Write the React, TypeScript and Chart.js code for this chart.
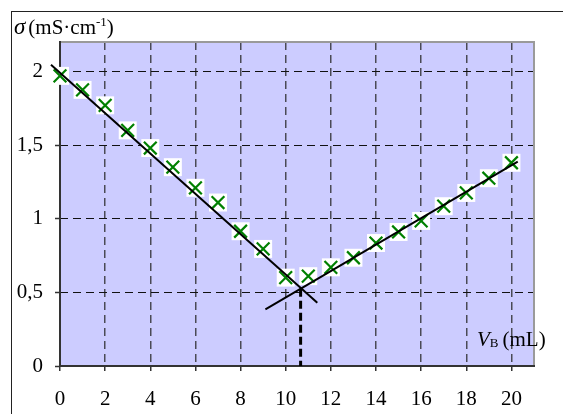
import React, { useEffect, useRef } from "react";
import { Chart, registerables } from "chart.js";

Chart.register(...registerables);

const volumes = [0, 1, 2, 3, 4, 5, 6, 7, 8, 9, 10, 11, 12, 13, 14, 15, 16, 17, 18, 19, 20];
const conductivity = [
  1.97, 1.875, 1.77, 1.6, 1.48, 1.35, 1.21, 1.11, 0.915, 0.795, 0.6,
  0.61, 0.67, 0.735, 0.835, 0.91, 0.985, 1.085, 1.175, 1.275, 1.38,
];
const fitDescX = [-0.4, 11.4];
const fitDescY = [2.045, 0.43];
const fitAscX = [9.1, 20.28];
const fitAscY = [0.385, 1.387];
const equivX = [10.66, 10.66];
const equivY = [0.525, 0];
const yTickValues = [0, 0.5, 1, 1.5, 2];
const yTickLabels = ["0", "0,5", "1", "1,5", "2"];

const SERIF = '"Liberation Serif", "Times New Roman", serif';

const framePlugin = {
  id: "frame",
  beforeDraw(chart: any) {
    const { ctx, chartArea: a } = chart;
    ctx.save();
    ctx.fillStyle = "#ffffff";
    ctx.fillRect(0, 0, chart.width, chart.height);
    ctx.fillStyle = "#ccccff";
    ctx.fillRect(a.left, a.top, a.right - a.left, a.bottom - a.top);
    ctx.strokeStyle = "#222";
    ctx.lineWidth = 1;
    ctx.strokeRect(11.5, 11.5, chart.width + 10, chart.height + 10);
    ctx.restore();
  },
  beforeDatasetsDraw(chart: any) {
    const { ctx, chartArea: a } = chart;
    ctx.save();
    ctx.setLineDash([]);
    ctx.lineWidth = 2;
    ctx.strokeStyle = "#9a9a9a";
    ctx.beginPath();
    ctx.moveTo(a.left, a.top);
    ctx.lineTo(a.right, a.top);
    ctx.lineTo(a.right, a.bottom);
    ctx.stroke();
    ctx.strokeStyle = "#333";
    ctx.beginPath();
    ctx.moveTo(a.left, a.top - 1);
    ctx.lineTo(a.left, a.bottom);
    ctx.lineTo(a.right + 1, a.bottom);
    ctx.stroke();
    ctx.restore();
  },
  afterDraw(chart: any) {
    const { ctx } = chart;
    ctx.save();
    ctx.fillStyle = "#000";
    ctx.textBaseline = "alphabetic";
    ctx.textAlign = "left";
    // Y-axis title
    let x = 14;
    const yb = 34;
    ctx.font = `italic 23px ${SERIF}`;
    ctx.fillText("σ", x, yb);
    x += ctx.measureText("σ").width + 3;
    ctx.font = `21px ${SERIF}`;
    ctx.fillText("(mS·cm", x, yb);
    x += ctx.measureText("(mS·cm").width;
    ctx.font = `13px ${SERIF}`;
    ctx.fillText("-1", x, yb - 8);
    x += ctx.measureText("-1").width;
    ctx.font = `21px ${SERIF}`;
    ctx.fillText(")", x, yb);
    // X-axis title
    let vx = 477;
    const vb = 346;
    ctx.font = `italic 21px ${SERIF}`;
    ctx.fillText("V", vx, vb);
    vx += ctx.measureText("V").width;
    ctx.font = `13px ${SERIF}`;
    ctx.fillText("B", vx, vb + 1);
    vx += ctx.measureText("B").width + 4;
    ctx.font = `21px ${SERIF}`;
    ctx.fillText("(mL)", vx, vb);
    ctx.restore();
  },
};

export default function App() {
  const ref = useRef<HTMLCanvasElement | null>(null);

  useEffect(() => {
    if (!ref.current) return;
    const points = volumes.map((v, i) => ({ x: v, y: conductivity[i] }));
    const chart = new Chart(ref.current, {
      type: "scatter",
      data: {
        datasets: [
          {
            label: "equivalence",
            data: equivX.map((v, i) => ({ x: v, y: equivY[i] })),
            showLine: true,
            borderColor: "#000",
            borderWidth: 3,
            borderDash: [8, 4],
            pointRadius: 0,
            clip: false,
          },
          {
            label: "fit1",
            data: fitDescX.map((v, i) => ({ x: v, y: fitDescY[i] })),
            showLine: true,
            borderColor: "#000",
            borderWidth: 2,
            pointRadius: 0,
            clip: false,
          },
          {
            label: "fit2",
            data: fitAscX.map((v, i) => ({ x: v, y: fitAscY[i] })),
            showLine: true,
            borderColor: "#000",
            borderWidth: 2,
            pointRadius: 0,
            clip: false,
          },
          {
            label: "sigma",
            data: points,
            pointStyle: "crossRot",
            pointRadius: 9,
            pointBorderColor: "#008000",
            pointBorderWidth: 2.2,
            clip: false,
          },
          {
            label: "box",
            data: points,
            pointStyle: "rect",
            pointRadius: 12.7,
            pointBackgroundColor: "#ffffff",
            pointBorderWidth: 0,
            clip: false,
          },
        ],
      },
      options: {
        animation: false,
        responsive: false,
        events: [],
        layout: { padding: { left: 0, top: 42, right: 29, bottom: 0 } },
        plugins: { legend: { display: false }, tooltip: { enabled: false } },
        scales: {
          x: {
            type: "linear",
            min: 0,
            max: 21,
            afterFit: (s: any) => {
              s.height = 48;
            },
            ticks: {
              stepSize: 2,
              includeBounds: false,
              color: "#000",
              padding: 16,
              maxRotation: 0,
              font: { family: SERIF, size: 21 },
            },
            grid: {
              color: "#4a4a55",
              lineWidth: 1.5,
              tickLength: 5,
              tickColor: "#333",
              tickWidth: 1.5,
              tickBorderDash: [],
            },
            border: { display: false, dash: [8, 5] },
          },
          y: {
            type: "linear",
            min: 0,
            max: 2.2,
            afterFit: (s: any) => {
              s.width = 60;
            },
            afterBuildTicks: (s: any) => {
              s.ticks = yTickValues.map((v) => ({ value: v }));
            },
            ticks: {
              color: "#000",
              padding: 12,
              font: { family: SERIF, size: 21 },
              callback: (v: any) => {
                const i = yTickValues.indexOf(Number(v));
                return i >= 0 ? yTickLabels[i] : "";
              },
            },
            grid: {
              color: "#111",
              lineWidth: 1,
              tickLength: 5,
              tickColor: "#333",
              tickWidth: 1.5,
              tickBorderDash: [],
            },
            border: { display: false, dash: [8, 5] },
          },
        },
      },
      plugins: [framePlugin],
    });
    return () => chart.destroy();
  }, []);

  return (
    <div style={{ position: "absolute", left: 0, top: 0, width: 563, height: 414 }}>
      <canvas ref={ref} width={563} height={414} style={{ display: "block" }} />
    </div>
  );
}
